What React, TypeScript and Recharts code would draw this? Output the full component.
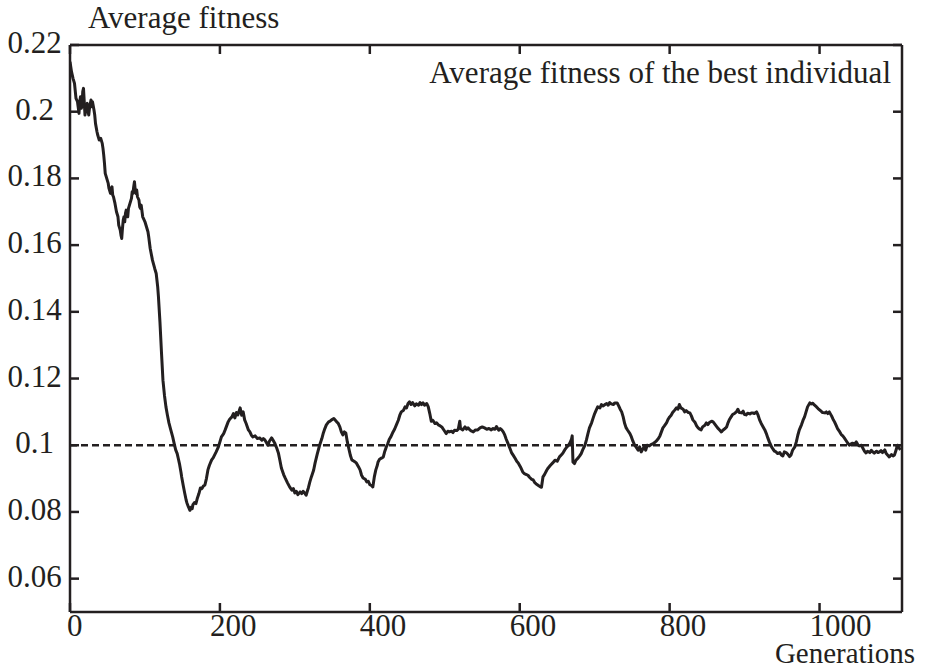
import React from "react";
import { LineChart, Line, XAxis, YAxis, ReferenceLine } from "recharts";

// generation numbers and average fitness of the best individual
const generations = [
  0, 2, 4, 6, 8, 10, 12, 13, 14, 15,
  16, 17, 18, 19, 20, 21, 23, 24, 25, 26,
  28, 29, 30, 32, 33, 34, 36, 37, 39, 41,
  43, 44, 45, 46, 47, 49, 51, 52, 54, 55,
  56, 57, 58, 59, 60, 62, 64, 65, 67, 68,
  69, 70, 71, 72, 73, 74, 75, 76, 77, 78,
  80, 82, 83, 84, 85, 86, 87, 88, 89, 90,
  92, 93, 94, 95, 97, 99, 100, 102, 104, 105,
  107, 110, 113, 115, 117, 118, 120, 122, 124, 126,
  128, 130, 132, 134, 137, 139, 141, 143, 145, 146,
  148, 149, 151, 153, 155, 156, 158, 160, 162, 163,
  164, 166, 168, 170, 172, 174, 176, 178, 180, 182,
  184, 186, 189, 191, 193, 195, 198, 200, 202, 205,
  207, 209, 211, 213, 216, 218, 220, 222, 224, 226,
  227, 229, 231, 233, 235, 238, 240, 242, 244, 247,
  250, 253, 256, 258, 260, 262, 264, 266, 269, 271,
  273, 276, 278, 280, 282, 285, 287, 290, 293, 296,
  298, 300, 302, 304, 307, 309, 311, 313, 315, 317,
  318, 320, 322, 325, 327, 330, 333, 336, 338, 340,
  342, 345, 347, 349, 352, 354, 356, 358, 360, 362,
  364, 366, 368, 370, 372, 374, 376, 379, 382, 385,
  387, 389, 391, 394, 396, 398, 400, 402, 404, 406,
  408, 410, 411, 413, 416, 418, 420, 422, 424, 426,
  428, 431, 433, 436, 438, 440, 442, 445, 447, 449,
  451, 453, 455, 457, 460, 462, 465, 467, 469, 471,
  473, 476, 478, 480, 482, 484, 487, 489, 492, 494,
  496, 499, 501, 502, 504, 506, 509, 511, 513, 516,
  518, 520, 521, 524, 527, 529, 531, 534, 536, 538,
  541, 544, 547, 550, 553, 556, 559, 562, 564, 567,
  569, 572, 574, 576, 578, 580, 582, 584, 587, 589,
  591, 594, 596, 598, 601, 604, 606, 609, 611, 613,
  616, 618, 620, 622, 624, 627, 629, 631, 633, 636,
  638, 641, 644, 647, 650, 653, 656, 658, 660, 663,
  665, 667, 669, 670, 671, 673, 675, 678, 680, 682,
  684, 687, 689, 691, 693, 696, 698, 700, 702, 704,
  707, 709, 711, 713, 716, 718, 720, 722, 725, 727,
  730, 732, 734, 736, 738, 740, 742, 744, 747, 749,
  751, 753, 756, 758, 760, 762, 764, 766, 768, 770,
  773, 775, 778, 780, 782, 785, 787, 789, 791, 793,
  796, 798, 800, 802, 804, 807, 809, 811, 813, 815,
  818, 820, 822, 825, 827, 829, 831, 834, 836, 838,
  840, 842, 844, 847, 849, 851, 853, 856, 858, 860,
  862, 864, 867, 869, 871, 874, 876, 878, 880, 882,
  884, 887, 889, 891, 893, 896, 898, 900, 902, 904,
  907, 909, 911, 913, 916, 918, 920, 922, 924, 927,
  929, 931, 933, 936, 938, 940, 942, 944, 947, 949,
  951, 953, 956, 958, 960, 962, 964, 967, 969, 971,
  973, 976, 978, 980, 982, 984, 987, 989, 991, 993,
  996, 998, 1000, 1002, 1004, 1007, 1009, 1011, 1013, 1016,
  1018, 1020, 1022, 1024, 1027, 1029, 1031, 1033, 1036, 1038,
  1040, 1042, 1044, 1047, 1049, 1051, 1053, 1056, 1058, 1060,
  1062, 1064, 1067, 1069, 1071, 1073, 1076, 1078, 1080, 1082,
  1084, 1087, 1089, 1091, 1093, 1096, 1098, 1100, 1102, 1104,
  1106, 1108,
];

const fitness = [
  0.215, 0.212, 0.21, 0.2085, 0.204, 0.203, 0.1995, 0.203, 0.2045, 0.201,
  0.2015, 0.206, 0.207, 0.203, 0.199, 0.201, 0.2025, 0.2, 0.199, 0.201,
  0.2035, 0.2015, 0.203, 0.2005, 0.199, 0.1965, 0.194, 0.193, 0.1915, 0.192,
  0.1905, 0.189, 0.187, 0.1845, 0.1815, 0.18, 0.1785, 0.177, 0.1755, 0.177,
  0.1775, 0.175, 0.1745, 0.1735, 0.1725, 0.17, 0.1685, 0.166, 0.1645, 0.163,
  0.162, 0.165, 0.1675, 0.1685, 0.167, 0.1695, 0.1705, 0.169, 0.1685, 0.171,
  0.1725, 0.174, 0.176, 0.1755, 0.1775, 0.179, 0.1765, 0.1755, 0.1765, 0.1745,
  0.1735, 0.1715, 0.171, 0.172, 0.1685, 0.1675, 0.167, 0.1655, 0.164, 0.1625,
  0.159, 0.1555, 0.153, 0.1515, 0.1475, 0.1445, 0.137, 0.128, 0.1195, 0.115,
  0.1115, 0.109, 0.1067, 0.105, 0.1025, 0.1005, 0.0986, 0.0975, 0.0955, 0.0945,
  0.092, 0.0905, 0.088, 0.0857, 0.0835, 0.0827, 0.0815, 0.0805, 0.0815, 0.081,
  0.0822, 0.0828, 0.0825, 0.0842, 0.0855, 0.0872, 0.087, 0.0878, 0.0881, 0.09,
  0.0926, 0.094, 0.0956, 0.0962, 0.0971, 0.098, 0.0995, 0.101, 0.1025, 0.1035,
  0.1046, 0.1058, 0.107, 0.1078, 0.1085, 0.1095, 0.1082, 0.1098, 0.1091, 0.1105,
  0.1112, 0.109, 0.11, 0.1076, 0.1065, 0.1046, 0.104, 0.103, 0.1025, 0.1028,
  0.102, 0.1022, 0.1015, 0.102, 0.1016, 0.1008, 0.1, 0.1012, 0.1022, 0.1015,
  0.1007, 0.099, 0.0977, 0.0955, 0.0932, 0.0912, 0.0902, 0.0888, 0.0875, 0.0865,
  0.087, 0.0857, 0.0862, 0.0852, 0.086, 0.0855, 0.0862, 0.0857, 0.085, 0.0865,
  0.0872, 0.089, 0.0905, 0.0925, 0.0947, 0.0975, 0.1, 0.102, 0.1037, 0.105,
  0.1061, 0.107, 0.1072, 0.1076, 0.108, 0.1075, 0.107, 0.1065, 0.1055, 0.104,
  0.1031, 0.104, 0.1037, 0.101, 0.099, 0.097, 0.0956, 0.0952, 0.0947, 0.0935,
  0.0926, 0.091, 0.0902, 0.0898, 0.089, 0.0892, 0.0882, 0.088, 0.0875, 0.0905,
  0.0926, 0.094, 0.095, 0.0958, 0.0962, 0.0965, 0.0982, 0.0995, 0.1005, 0.1018,
  0.1025, 0.104, 0.1048, 0.1064, 0.1075, 0.109, 0.11, 0.1105, 0.1115, 0.1112,
  0.1125, 0.113, 0.1122, 0.1128, 0.1118, 0.1124, 0.112, 0.1128, 0.1122, 0.1127,
  0.112, 0.1125, 0.1115, 0.1095, 0.1072, 0.1075, 0.1065, 0.1067, 0.106, 0.1058,
  0.1055, 0.1045, 0.1038, 0.1035, 0.1042, 0.104, 0.1042, 0.1038, 0.1045, 0.1044,
  0.1048, 0.1072, 0.105, 0.1046, 0.1055, 0.1048, 0.1052, 0.1045, 0.1042, 0.104,
  0.1046, 0.1046, 0.1052, 0.1055, 0.1052, 0.1048, 0.105, 0.1046, 0.105, 0.1048,
  0.1056, 0.1045, 0.105, 0.1046, 0.104, 0.1031, 0.1018, 0.1007, 0.099, 0.0978,
  0.0971, 0.096, 0.0952, 0.0947, 0.0935, 0.092, 0.0915, 0.0912, 0.091, 0.0904,
  0.0898, 0.0896, 0.0888, 0.0884, 0.0881, 0.0876, 0.0874, 0.0905, 0.0912, 0.0925,
  0.0932, 0.094, 0.0947, 0.0955, 0.0952, 0.0965, 0.0972, 0.0978, 0.0986, 0.0995,
  0.1, 0.1007, 0.1018, 0.1028, 0.095, 0.0945, 0.0955, 0.0962, 0.0968, 0.0975,
  0.0986, 0.1, 0.1016, 0.1035, 0.1052, 0.1068, 0.1082, 0.1095, 0.1105, 0.1115,
  0.1112, 0.1122, 0.1118, 0.1121, 0.1125, 0.112, 0.1128, 0.1124, 0.1122, 0.1127,
  0.1127, 0.1118, 0.1108, 0.11, 0.1085, 0.1065, 0.1052, 0.1045, 0.1035, 0.1025,
  0.1012, 0.1002, 0.0992, 0.0985, 0.0995, 0.098, 0.0988, 0.0995, 0.0985, 0.1,
  0.0998, 0.1002, 0.1005, 0.1008, 0.1012, 0.102, 0.1028, 0.104, 0.1052, 0.1058,
  0.1068, 0.1078, 0.1085, 0.109, 0.1098, 0.1106, 0.1112, 0.1108, 0.1122, 0.1112,
  0.1108, 0.11, 0.1104, 0.1098, 0.1097, 0.1088, 0.1076, 0.1068, 0.1058, 0.1052,
  0.1048, 0.1046, 0.1055, 0.106, 0.1067, 0.1062, 0.1068, 0.1072, 0.107, 0.1064,
  0.1058, 0.1052, 0.1045, 0.104, 0.1045, 0.105, 0.1055, 0.1068, 0.1078, 0.1085,
  0.1092, 0.1096, 0.11, 0.1108, 0.1098, 0.1097, 0.1102, 0.1092, 0.1091, 0.1096,
  0.1094, 0.1097, 0.1097, 0.1095, 0.11, 0.109, 0.1076, 0.1066, 0.1058, 0.1046,
  0.1035, 0.1022, 0.101, 0.0995, 0.0988, 0.0982, 0.098, 0.0975, 0.0978, 0.0971,
  0.0968, 0.098, 0.0977, 0.0972, 0.0966, 0.0971, 0.0985, 0.0995, 0.101, 0.103,
  0.1046, 0.1062, 0.1075, 0.1085, 0.11, 0.1115, 0.1127, 0.1124, 0.1126, 0.1121,
  0.1115, 0.111, 0.1106, 0.1102, 0.1098, 0.1097, 0.11, 0.1095, 0.11, 0.1088,
  0.1078, 0.107, 0.106, 0.105, 0.104, 0.1032, 0.1028, 0.1022, 0.1012, 0.1005,
  0.1, 0.1004, 0.1006, 0.1004, 0.101, 0.1002, 0.0998, 0.1, 0.099, 0.0982,
  0.0977, 0.0982, 0.0978, 0.0985, 0.098, 0.0976, 0.0982, 0.0978, 0.098, 0.0984,
  0.0978, 0.0986, 0.0975, 0.097, 0.0965, 0.0972, 0.0968, 0.0971, 0.0985, 0.1,
  0.0992, 0.0986,
];

const xTicks = [0, 200, 400, 600, 800, 1000];
const yTicks = [0.06, 0.08, 0.1, 0.12, 0.14, 0.16, 0.18, 0.2, 0.22];
const targetFitness = 0.1;

const data = generations.map((g, i) => ({ gen: g, fitness: fitness[i] }));

const INK = "#231f20";
const FONT = "'Liberation Serif', 'Times New Roman', serif";
const FS = 31;
const TICK = 9;

const BottomTick = (props: any) => {
  const { x, y, payload } = props;
  const dx = payload.value === 0 ? -3 : -10;
  return (
    <g>
      <line x1={x} y1={y} x2={x} y2={y - TICK} stroke={INK} strokeWidth={2.5} />
      <text x={x + dx} y={y + 24} textAnchor="start" fill={INK} fontFamily={FONT} fontSize={FS}>
        {payload.value}
      </text>
    </g>
  );
};

const TopTick = (props: any) => {
  const { x, y } = props;
  return <line x1={x} y1={y} x2={x} y2={y + TICK} stroke={INK} strokeWidth={2.5} />;
};

const LeftTick = (props: any) => {
  const { x, y, payload } = props;
  return (
    <g>
      <line x1={x} y1={y} x2={x + TICK} y2={y} stroke={INK} strokeWidth={2.5} />
      <text x={x - 35.5} y={y + 8} textAnchor="middle" fill={INK} fontFamily={FONT} fontSize={FS}>
        {String(payload.value)}
      </text>
    </g>
  );
};

const RightTick = (props: any) => {
  const { x, y } = props;
  return <line x1={x} y1={y} x2={x - TICK} y2={y} stroke={INK} strokeWidth={2.5} />;
};

export default function App() {
  return (
    <div style={{ position: "absolute", left: 0, top: 0, width: 930, height: 670, background: "#fff" }}>
      <LineChart width={930} height={670} data={data} margin={{ top: 0, right: 0, bottom: 0, left: 0 }}>
        <XAxis
          xAxisId="bottom"
          dataKey="gen"
          type="number"
          domain={[0, 1110]}
          ticks={xTicks}
          interval={0}
          height={58}
          tickSize={0}
          tickMargin={0}
          tickLine={false}
          axisLine={{ stroke: INK, strokeWidth: 2.5 }}
          tick={<BottomTick />}
          allowDataOverflow
        />
        <XAxis
          xAxisId="top"
          orientation="top"
          dataKey="gen"
          type="number"
          domain={[0, 1110]}
          ticks={xTicks}
          interval={0}
          height={45}
          tickSize={0}
          tickMargin={0}
          tickLine={false}
          axisLine={{ stroke: INK, strokeWidth: 2.5 }}
          tick={<TopTick />}
          allowDataOverflow
        />
        <YAxis
          yAxisId="left"
          type="number"
          domain={[0.05, 0.22]}
          ticks={yTicks}
          interval={0}
          width={70}
          tickSize={0}
          tickMargin={0}
          tickLine={false}
          axisLine={{ stroke: INK, strokeWidth: 2.5 }}
          tick={<LeftTick />}
          allowDataOverflow
        />
        <YAxis
          yAxisId="right"
          orientation="right"
          type="number"
          domain={[0.05, 0.22]}
          ticks={yTicks}
          interval={0}
          width={28}
          tickSize={0}
          tickMargin={0}
          tickLine={false}
          axisLine={{ stroke: INK, strokeWidth: 2.5 }}
          tick={<RightTick />}
          allowDataOverflow
        />
        <ReferenceLine
          xAxisId="bottom"
          yAxisId="left"
          y={targetFitness}
          stroke={INK}
          strokeWidth={2.4}
          strokeDasharray="7 4"
        />
        <Line
          xAxisId="bottom"
          yAxisId="left"
          dataKey="fitness"
          type="linear"
          stroke={INK}
          strokeWidth={3}
          strokeLinejoin="round"
          dot={false}
          isAnimationActive={false}
        />
      </LineChart>
      <svg
        width={930}
        height={670}
        style={{ position: "absolute", left: 0, top: 0, pointerEvents: "none" }}
      >
        <text x={88} y={28} fill={INK} fontFamily={FONT} fontSize={31}>
          Average fitness
        </text>
        <text x={891} y={83} textAnchor="end" fill={INK} fontFamily={FONT} fontSize={FS}>
          Average fitness of the best individual
        </text>
        <text x={915} y={663} textAnchor="end" fill={INK} fontFamily={FONT} fontSize={29}>
          Generations
        </text>
      </svg>
    </div>
  );
}
